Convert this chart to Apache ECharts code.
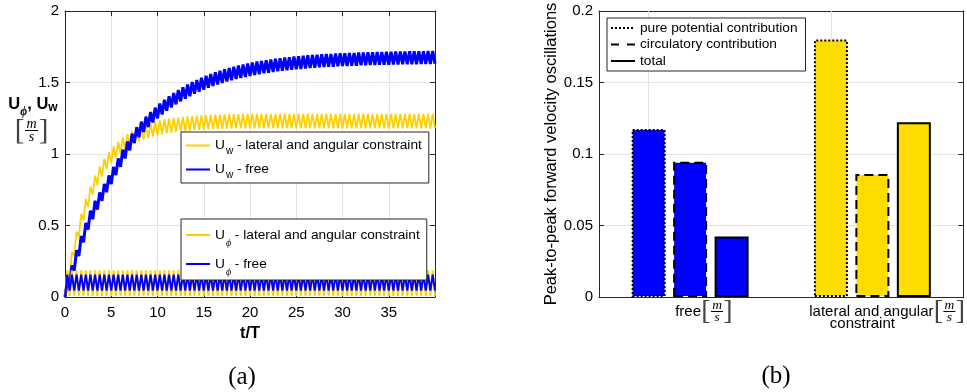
<!DOCTYPE html>
<html><head><meta charset="utf-8">
<script src="https://cdn.jsdelivr.net/npm/echarts@6/dist/echarts.min.js"></script>
<style>html,body{margin:0;padding:0;background:#fff}#c{width:967px;height:392px}</style>
</head><body><div id="c"></div>
<script>
// ---------- data: panel (a) ----------
const tValues = [
0,0.25,0.5,0.75,1,1.25,1.5,1.75,2,2.25,2.5,2.75,3,3.25,3.5,3.75,4,4.25,4.5,4.75,
5,5.25,5.5,5.75,6,6.25,6.5,6.75,7,7.25,7.5,7.75,8,8.25,8.5,8.75,9,9.25,9.5,9.75,
10,10.25,10.5,10.75,11,11.25,11.5,11.75,12,12.25,12.5,12.75,13,13.25,13.5,13.75,14,14.25,14.5,14.75,
15,15.25,15.5,15.75,16,16.25,16.5,16.75,17,17.25,17.5,17.75,18,18.25,18.5,18.75,19,19.25,19.5,19.75,
20,20.25,20.5,20.75,21,21.25,21.5,21.75,22,22.25,22.5,22.75,23,23.25,23.5,23.75,24,24.25,24.5,24.75,
25,25.25,25.5,25.75,26,26.25,26.5,26.75,27,27.25,27.5,27.75,28,28.25,28.5,28.75,29,29.25,29.5,29.75,
30,30.25,30.5,30.75,31,31.25,31.5,31.75,32,32.25,32.5,32.75,33,33.25,33.5,33.75,34,34.25,34.5,34.75,
35,35.25,35.5,35.75,36,36.25,36.5,36.75,37,37.25,37.5,37.75,38,38.25,38.5,38.75,39,39.25,39.5,39.75,
40];
const uwConstrained = [
0,0.145,0.133,0.314,0.289,0.458,0.422,0.581,0.535,0.685,0.631,0.773,0.713,0.849,0.782,0.913,0.842,0.968,0.892,1.014,
0.935,1.054,0.971,1.087,1.003,1.116,1.029,1.141,1.051,1.161,1.071,1.179,1.087,1.194,1.101,1.207,1.113,1.218,1.123,1.227,
1.131,1.235,1.138,1.242,1.145,1.247,1.150,1.252,1.154,1.256,1.158,1.260,1.161,1.263,1.164,1.265,1.167,1.268,1.169,1.270,
1.171,1.272,1.173,1.273,1.174,1.275,1.175,1.276,1.176,1.277,1.177,1.278,1.178,1.278,1.179,1.279,1.179,1.280,1.180,1.280,
1.18,1.28,1.18,1.28,1.18,1.28,1.18,1.28,1.18,1.28,1.18,1.28,1.18,1.28,1.18,1.28,1.18,1.28,1.18,1.28,
1.18,1.28,1.18,1.28,1.18,1.28,1.18,1.28,1.18,1.28,1.18,1.28,1.18,1.28,1.18,1.28,1.18,1.28,1.18,1.28,
1.18,1.28,1.18,1.28,1.18,1.28,1.18,1.28,1.18,1.28,1.18,1.28,1.18,1.28,1.18,1.28,1.18,1.28,1.18,1.28,
1.18,1.28,1.18,1.28,1.18,1.28,1.18,1.28,1.18,1.28,1.18,1.28,1.18,1.28,1.18,1.28,1.18,1.28,1.18,1.28,
1.18];
const uwFree = [
0,0.106,0.074,0.220,0.185,0.327,0.287,0.426,0.383,0.518,0.472,0.604,0.544,0.673,0.611,0.732,0.672,0.791,0.733,0.850,
0.790,0.909,0.852,0.969,0.910,1.030,0.969,1.087,1.025,1.142,1.077,1.188,1.117,1.226,1.154,1.261,1.188,1.294,1.220,1.324,
1.249,1.353,1.276,1.379,1.302,1.404,1.325,1.426,1.347,1.448,1.368,1.467,1.387,1.486,1.404,1.503,1.421,1.518,1.436,1.533,
1.450,1.547,1.463,1.559,1.475,1.571,1.486,1.582,1.497,1.592,1.507,1.601,1.516,1.610,1.524,1.618,1.532,1.626,1.539,1.633,
1.546,1.639,1.553,1.646,1.558,1.651,1.564,1.656,1.569,1.661,1.574,1.666,1.578,1.670,1.582,1.674,1.586,1.677,1.589,1.681,
1.592,1.684,1.595,1.687,1.598,1.690,1.601,1.692,1.603,1.694,1.606,1.697,1.608,1.699,1.610,1.700,1.611,1.702,1.613,1.704,
1.615,1.705,1.616,1.706,1.617,1.707,1.618,1.709,1.620,1.710,1.621,1.711,1.622,1.712,1.623,1.713,1.624,1.714,1.624,1.715,
1.625,1.715,1.626,1.716,1.626,1.717,1.627,1.717,1.627,1.718,1.628,1.718,1.628,1.719,1.629,1.719,1.630,1.720,1.630,1.720,
1.631];
const uphiConstrained = [
0,0.186,0.008,0.186,0.008,0.186,0.008,0.186,0.008,0.186,0.008,0.186,0.008,0.186,0.008,0.186,0.008,0.186,0.008,0.186,
0.008,0.186,0.008,0.186,0.008,0.186,0.008,0.186,0.008,0.186,0.008,0.186,0.008,0.186,0.008,0.186,0.008,0.186,0.008,0.186,
0.008,0.186,0.008,0.186,0.008,0.186,0.008,0.186,0.008,0.186,0.008,0.186,0.008,0.186,0.008,0.186,0.008,0.186,0.008,0.186,
0.008,0.186,0.008,0.186,0.008,0.186,0.008,0.186,0.008,0.186,0.008,0.186,0.008,0.186,0.008,0.186,0.008,0.186,0.008,0.186,
0.008,0.186,0.008,0.186,0.008,0.186,0.008,0.186,0.008,0.186,0.008,0.186,0.008,0.186,0.008,0.186,0.008,0.186,0.008,0.186,
0.008,0.186,0.008,0.186,0.008,0.186,0.008,0.186,0.008,0.186,0.008,0.186,0.008,0.186,0.008,0.186,0.008,0.186,0.008,0.186,
0.008,0.186,0.008,0.186,0.008,0.186,0.008,0.186,0.008,0.186,0.008,0.186,0.008,0.186,0.008,0.186,0.008,0.186,0.008,0.186,
0.008,0.186,0.008,0.186,0.008,0.186,0.008,0.186,0.008,0.186,0.008,0.186,0.008,0.186,0.008,0.186,0.008,0.186,0.008,0.186,
0.008];
const uphiFree = [
0,0.157,0.045,0.157,0.045,0.157,0.045,0.157,0.045,0.157,0.045,0.157,0.045,0.157,0.045,0.157,0.045,0.157,0.045,0.157,
0.045,0.157,0.045,0.157,0.045,0.157,0.045,0.157,0.045,0.157,0.045,0.157,0.045,0.157,0.045,0.157,0.045,0.157,0.045,0.157,
0.045,0.157,0.045,0.157,0.045,0.157,0.045,0.157,0.045,0.157,0.045,0.157,0.045,0.157,0.045,0.157,0.045,0.157,0.045,0.157,
0.045,0.157,0.045,0.157,0.045,0.157,0.045,0.157,0.045,0.157,0.045,0.157,0.045,0.157,0.045,0.157,0.045,0.157,0.045,0.157,
0.045,0.157,0.045,0.157,0.045,0.157,0.045,0.157,0.045,0.157,0.045,0.157,0.045,0.157,0.045,0.157,0.045,0.157,0.045,0.157,
0.045,0.157,0.045,0.157,0.045,0.157,0.045,0.157,0.045,0.157,0.045,0.157,0.045,0.157,0.045,0.157,0.045,0.157,0.045,0.157,
0.045,0.157,0.045,0.157,0.045,0.157,0.045,0.157,0.045,0.157,0.045,0.157,0.045,0.157,0.045,0.157,0.045,0.157,0.045,0.157,
0.045,0.157,0.045,0.157,0.045,0.157,0.045,0.157,0.045,0.157,0.045,0.157,0.045,0.157,0.045,0.157,0.045,0.157,0.045,0.157,
0.045];

// ---------- data: panel (b) ----------
const barCategories = ['free', 'lateral'];
const purePotential = [0.1175, 0.1800];
const circulatory   = [0.0945, 0.0860];
const totalOsc      = [0.0423, 0.1222];
const barLegendNames = ['pure potential contribution', 'circulatory contribution', 'total'];

// ---------- styles ----------
const FONT = "'Liberation Sans', Arial, Helvetica, sans-serif";
const SERIF = "'Liberation Serif', 'DejaVu Serif', serif";
const INK = '#262626';
const GRIDC = '#e3e3e3';
const BLUE = '#0000FF';
const GOLD_LINE = '#FFD000';
const GOLD_BAR = '#FFDD00';
const categoryColors = [BLUE, GOLD_BAR];
const dashTypes = [[2, 2], [9, 5], 'solid'];
const legendDash = [[2, 2], [8, 8], 'solid'];

const pairs = ys => tValues.map((t, i) => [t, ys[i]]);

const lineSeries = [
  {name: 'uwC', data: uwConstrained, color: GOLD_LINE, width: 1.8},
  {name: 'uwF', data: uwFree, color: BLUE, width: 3},
  {name: 'upC', data: uphiConstrained, color: GOLD_LINE, width: 2},
  {name: 'upF', data: uphiFree, color: BLUE, width: 2}
].map(s => ({
  type: 'line', name: s.name, xAxisIndex: 0, yAxisIndex: 0,
  data: pairs(s.data), symbol: 'none', showSymbol: false, smooth: false,
  lineStyle: {color: s.color, width: s.width}, itemStyle: {color: s.color},
  silent: true, animation: false, z: 2
}));

const legendLabels = {
  uwC: '{u|U}{w|w}{t| - lateral and angular constraint}',
  uwF: '{u|U}{w|w}{t| - free}',
  upC: '{u|U}{p|ϕ}{t| - lateral and angular constraint}',
  upF: '{u|U}{p|ϕ}{t| - free}'
};
const legendRich = {
  u: {fontFamily: FONT, fontSize: 13.7, lineHeight: 20, color: '#000'},
  t: {fontFamily: FONT, fontSize: 13.7, lineHeight: 20, color: '#000'},
  w: {fontFamily: FONT, fontSize: 10, lineHeight: 20, color: '#000', padding: [11, 0, 0, 1]},
  p: {fontFamily: SERIF, fontStyle: 'italic', fontSize: 10, lineHeight: 20, color: '#000', padding: [16, 0, 0, 1]}
};
const boxLegend = (names, left, top) => ({
  data: names, left: left, top: top, orient: 'vertical',
  itemWidth: 24, itemHeight: 12, itemGap: 3,
  padding: [3, 7, 3, 4], backgroundColor: '#fff', borderColor: INK, borderWidth: 1, borderRadius: 0,
  selectedMode: false, itemStyle: {opacity: 0},
  formatter: n => legendLabels[n],
  textStyle: {rich: legendRich, color: '#000'}
});

const barSeries = [purePotential, circulatory, totalOsc].map((vals, si) => ({
  type: 'bar', name: 'bar' + si, xAxisIndex: 1, yAxisIndex: 1,
  barWidth: 34, barGap: '22%',
  data: vals.map((v, i) => ({value: v, itemStyle: {color: categoryColors[i]}})),
  itemStyle: {borderColor: '#000', borderWidth: 2, borderType: dashTypes[si]},
  silent: true, animation: false, z: 2,
  markLine: si === 0 ? {
    silent: true, z: 1, symbol: ['none', 'none'], label: {show: false},
    lineStyle: {color: GRIDC, width: 1, type: 'solid'},
    data: barCategories.map(c => ({xAxis: c})), animation: false
  } : undefined
}));
const legendLineSeries = barLegendNames.map((n, si) => ({
  type: 'line', name: n, xAxisIndex: 1, yAxisIndex: 1, data: [], symbol: 'none',
  lineStyle: {color: '#000', width: 2, type: legendDash[si]}, itemStyle: {color: '#000'}
}));

// category tick labels with [m/s] fractions
const catLabels = {
  free: '{pA|}{gA|}{num|m}{g2|}\n{pA|}{tA|free}{lb|[}{bar|}{rb|]}\n{pA|}{gA|}{den|s}{g2|}',
  lateral: '{pB|}{gB|}{num|m}{g2|}\n{pB|}{tB|lateral and angular}{lb|[}{bar|}{rb|]}\n{pB|}{gB|}{den|s}{g2|}\n{con|constraint}{pC|}'
};
const catRich = {
  pA: {width: 28, lineHeight: 1}, pB: {width: 30, lineHeight: 1}, pC: {width: 20, lineHeight: 1},
  gA: {width: 35.8, lineHeight: 1}, gB: {width: 134, lineHeight: 1}, g2: {width: 10, lineHeight: 1},
  tA: {width: 25.8, lineHeight: 5, fontFamily: FONT, fontSize: 15, color: '#000'},
  tB: {width: 124, lineHeight: 5, fontFamily: FONT, fontSize: 15, color: '#000'},
  lb: {width: 10, lineHeight: 5, fontFamily: SERIF, fontSize: 28, color: '#444'},
  rb: {width: 10, lineHeight: 5, fontFamily: SERIF, fontSize: 28, color: '#444'},
  bar: {width: 12, height: 1, lineHeight: 5, backgroundColor: '#000'},
  num: {width: 12, lineHeight: 8, fontFamily: SERIF, fontStyle: 'italic', fontSize: 13.5, color: '#000'},
  den: {width: 12, lineHeight: 6, fontFamily: SERIF, fontStyle: 'italic', fontSize: 13.5, color: '#000'},
  con: {width: 65, lineHeight: 8, fontFamily: FONT, fontSize: 15, color: '#000'}
};

const axLine = {show: true, onZero: false, lineStyle: {color: INK, width: 1}};
const tickIn = {show: true, inside: true, length: 5, lineStyle: {color: INK}};
const tickLabel = {fontFamily: FONT, fontSize: 15, color: '#000'};

const option = {
  animation: false,
  backgroundColor: '#fff',
  textStyle: {fontFamily: FONT},
  grid: [
    {left: 65, top: 11, width: 370, height: 286},
    {left: 599, top: 11, width: 370, height: 286}
  ],
  xAxis: [
    {gridIndex: 0, type: 'value', min: 0, max: 40, interval: 5,
     name: 't/T', nameLocation: 'middle', nameGap: 27,
     nameTextStyle: {fontFamily: FONT, fontSize: 16.5, fontWeight: 'bold', color: '#000'},
     axisLine: axLine, axisTick: tickIn,
     axisLabel: Object.assign({showMaxLabel: false, margin: 8}, tickLabel),
     splitLine: {show: true, lineStyle: {color: GRIDC}}},
    {gridIndex: 1, type: 'category', data: barCategories,
     axisLine: axLine, axisTick: {show: false},
     axisLabel: {interval: 0, hideOverlap: false, margin: 4, fontFamily: FONT, fontSize: 15, color: '#000',
                 formatter: v => catLabels[v], rich: catRich},
     splitLine: {show: false}},
    {gridIndex: 0, type: 'value', position: 'top', min: 0, max: 40, interval: 5,
     axisLine: axLine, axisTick: tickIn, axisLabel: {show: false}, splitLine: {show: false}},
    {gridIndex: 1, type: 'category', position: 'top', data: barCategories,
     axisLine: axLine, axisTick: {show: false}, axisLabel: {show: false}, splitLine: {show: false}}
  ],
  yAxis: [
    {gridIndex: 0, type: 'value', min: 0, max: 2, interval: 0.5,
     axisLine: axLine, axisTick: tickIn, axisLabel: Object.assign({margin: 6}, tickLabel),
     splitLine: {show: true, lineStyle: {color: GRIDC}}},
    {gridIndex: 1, type: 'value', min: 0, max: 0.2, interval: 0.05,
     name: 'Peak-to-peak forward velocity oscillations', nameLocation: 'middle', nameGap: 30,
     nameTextStyle: {fontFamily: FONT, fontSize: 16.5, color: '#000'},
     axisLine: axLine, axisTick: tickIn, axisLabel: Object.assign({margin: 6}, tickLabel),
     splitLine: {show: true, lineStyle: {color: GRIDC}}},
    {gridIndex: 0, type: 'value', position: 'right', min: 0, max: 2, interval: 0.5,
     axisLine: axLine, axisTick: tickIn, axisLabel: {show: false}, splitLine: {show: false}},
    {gridIndex: 1, type: 'value', position: 'right', min: 0, max: 0.2, interval: 0.05,
     axisLine: axLine, axisTick: tickIn, axisLabel: {show: false}, splitLine: {show: false}}
  ],
  legend: [
    boxLegend(['uwC', 'uwF'], 181, 132),
    boxLegend(['upC', 'upF'], 181, 219),
    {data: barLegendNames, left: 607, top: 18, orient: 'vertical',
     itemWidth: 24, itemHeight: 10, itemGap: 0.5,
     padding: [2, 8, 2, 3], backgroundColor: '#fff', borderColor: INK, borderWidth: 1, borderRadius: 0,
     selectedMode: false, itemStyle: {opacity: 0},
     textStyle: {fontFamily: FONT, fontSize: 13.7, lineHeight: 16, color: '#000'}}
  ],
  graphic: [
    {type: 'text', x: 33, y: 104, silent: true,
     style: {text: '{b|U}{bp|ϕ}{b|, U}{bw|w}', align: 'center', verticalAlign: 'middle',
       rich: {
         b: {fontFamily: FONT, fontSize: 16.5, fontWeight: 'bold', lineHeight: 22, color: '#000'},
         bw: {fontFamily: FONT, fontSize: 12, fontWeight: 'bold', lineHeight: 22, padding: [8, 0, 0, 0], color: '#000'},
         bp: {fontFamily: SERIF, fontStyle: 'italic', fontSize: 12, fontWeight: 'bold', lineHeight: 22, padding: [16, 0, 0, 0], color: '#000'}
       }}},
    {type: 'text', x: 19.5, y: 131, silent: true,
     style: {text: '[', font: '29px ' + SERIF, fill: '#444', align: 'center', verticalAlign: 'middle'}},
    {type: 'text', x: 43.5, y: 131, silent: true,
     style: {text: ']', font: '29px ' + SERIF, fill: '#444', align: 'center', verticalAlign: 'middle'}},
    {type: 'text', x: 31.5, y: 124.5, silent: true,
     style: {text: 'm', font: 'italic 14px ' + SERIF, fill: '#000', align: 'center', verticalAlign: 'middle'}},
    {type: 'text', x: 31.5, y: 137, silent: true,
     style: {text: 's', font: 'italic 14px ' + SERIF, fill: '#000', align: 'center', verticalAlign: 'middle'}},
    {type: 'line', silent: true, shape: {x1: 25, y1: 130.5, x2: 38, y2: 130.5}, style: {stroke: '#000', lineWidth: 1}},
    {type: 'text', x: 242, y: 377, silent: true,
     style: {text: '(a)', font: '25px ' + SERIF, fill: '#000', align: 'center', verticalAlign: 'middle'}},
    {type: 'text', x: 776, y: 376, silent: true,
     style: {text: '(b)', font: '25px ' + SERIF, fill: '#000', align: 'center', verticalAlign: 'middle'}}
  ],
  series: lineSeries.concat(barSeries, legendLineSeries)
};

const chart = echarts.init(document.getElementById('c'), null, {renderer: 'canvas'});
chart.setOption(option);
</script>
</body></html>
